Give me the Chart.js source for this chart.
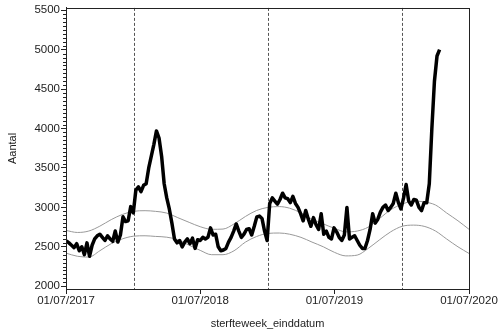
<!DOCTYPE html>
<html>
<head>
<meta charset="utf-8">
<script src="https://cdn.jsdelivr.net/npm/chart.js@4.4.0/dist/chart.umd.min.js"></script>
<style>
  html, body { margin: 0; padding: 0; background: #fff; }
</style>
</head>
<body>
<canvas id="chart" width="500" height="333"></canvas>
<script>
// weekly deaths, week ending dates start 2017-07-02
const firstWeekEnd = "2017-07-02";
const deaths = [
  2575, 2550, 2520, 2490, 2540, 2450, 2500, 2400, 2550, 2380,
  2520, 2600, 2640, 2660, 2620, 2580, 2640, 2600, 2570, 2700,
  2560, 2650, 2880, 2820, 2830, 3010, 2930, 3220, 3260, 3200,
  3280, 3300, 3500, 3650, 3800, 3970, 3880, 3650, 3300, 3120,
  2980, 2800, 2600, 2550, 2580, 2500, 2560, 2600, 2540, 2610,
  2480, 2590, 2580, 2620, 2600, 2620, 2740, 2650, 2660, 2500,
  2450, 2460, 2480, 2560, 2620, 2700, 2790, 2700, 2620, 2660,
  2720, 2730, 2650, 2760, 2880, 2890, 2860, 2700, 2580, 3050,
  3120, 3080, 3040, 3100, 3180, 3120, 3110, 3060, 3140, 3050,
  3000, 2920, 2830, 2960, 2850, 2760, 2870, 2780, 2720, 2920,
  2660, 2700, 2620, 2600, 2740, 2690, 2620, 2580, 2650, 3000,
  2600, 2620, 2640, 2580, 2520, 2480, 2480, 2580, 2720, 2920,
  2800, 2850, 2940, 3000, 3030, 2960, 3000, 3050, 3180, 3060,
  2980, 3120, 3290, 3080, 3030, 3100, 3090, 3000, 2960, 3060,
  3060, 3300, 4000, 4600, 4920, 5000
];

// expected band, monthly from 2017-07-01 to 2020-07-01
const bandStart = "2017-07-01";
const upperBand = [
  2708, 2682, 2700, 2762, 2845, 2910, 2950, 2958, 2950, 2928,
  2870, 2810, 2755, 2722, 2725, 2790, 2885, 2960, 3000, 3010,
  2990, 2930, 2850, 2790, 2735, 2690, 2700, 2750, 2860, 2970,
  3040, 3080, 3070, 3030, 2930, 2830, 2722
];
const lowerBand = [
  2420, 2380, 2370, 2450, 2540, 2600, 2635, 2640, 2632, 2622,
  2590, 2520, 2455, 2400, 2400, 2450, 2560, 2630, 2670, 2675,
  2660, 2620, 2560, 2500, 2430, 2385, 2395, 2480, 2590, 2690,
  2760, 2775, 2760, 2700, 2600, 2500, 2416
];

const xTickDates = ["2017-07-01", "2018-07-01", "2019-07-01", "2020-07-01"];
const refLineDates = ["2018-01-01", "2019-01-01", "2020-01-01"];
const yTicks = [2000, 2500, 3000, 3500, 4000, 4500, 5000, 5500];

const DAY = 86400000;
const t0 = Date.parse(firstWeekEnd);
const deathPoints = deaths.map((v, i) => ({ x: t0 + i * 7 * DAY, y: v }));

const b0 = new Date(bandStart);
function bandPoints(arr) {
  return arr.map((v, m) => ({
    x: Date.UTC(b0.getUTCFullYear(), b0.getUTCMonth() + m, 1),
    y: v
  }));
}

function fmtDate(ms) {
  const d = new Date(ms);
  const dd = String(d.getUTCDate()).padStart(2, "0");
  const mm = String(d.getUTCMonth() + 1).padStart(2, "0");
  return dd + "/" + mm + "/" + d.getUTCFullYear();
}

const FONT = "'Liberation Sans', Arial, sans-serif";

const extras = {
  id: "extras",
  beforeDatasetsDraw(chart) {
    const { ctx, chartArea: a, scales } = chart;
    ctx.save();
    ctx.strokeStyle = "#555";
    ctx.lineWidth = 1;
    ctx.setLineDash([3, 2]);
    refLineDates.forEach(d => {
      const x = Math.round(scales.x.getPixelForValue(Date.parse(d))) + 0.5;
      ctx.beginPath();
      ctx.moveTo(x, a.top);
      ctx.lineTo(x, a.bottom);
      ctx.stroke();
    });
    ctx.restore();
  },
  afterDraw(chart) {
    const { ctx, chartArea: a, scales } = chart;
    ctx.save();
    ctx.strokeStyle = "#222";
    ctx.lineWidth = 1;
    ctx.strokeRect(Math.round(a.left) + 0.5, Math.round(a.top) + 0.5,
      Math.round(a.right - a.left), Math.round(a.bottom - a.top));
    // minor ticks on y
    ctx.beginPath();
    for (let v = 2000; v <= 5500; v += 50) {
      if (v % 500 === 0) continue;
      const y = Math.round(scales.y.getPixelForValue(v)) + 0.5;
      ctx.moveTo(a.left, y);
      ctx.lineTo(a.left - 3, y);
    }
    ctx.stroke();
    ctx.restore();
  }
};

new Chart(document.getElementById("chart"), {
  type: "line",
  data: {
    datasets: [
      {
        data: deathPoints,
        borderColor: "#000",
        borderWidth: 3.5,
        borderJoinStyle: "round",
        pointRadius: 0,
        tension: 0
      },
      {
        data: bandPoints(upperBand),
        borderColor: "#999",
        borderWidth: 1,
        pointRadius: 0,
        cubicInterpolationMode: "monotone"
      },
      {
        data: bandPoints(lowerBand),
        borderColor: "#999",
        borderWidth: 1,
        pointRadius: 0,
        cubicInterpolationMode: "monotone"
      }
    ]
  },
  options: {
    responsive: false,
    animation: false,
    layout: { padding: { left: 0, right: 31, top: 3, bottom: 0 } },
    plugins: { legend: { display: false }, tooltip: { enabled: false } },
    scales: {
      x: {
        type: "linear",
        min: Date.parse(xTickDates[0]),
        max: Date.parse(xTickDates[xTickDates.length - 1]),
        afterBuildTicks: s => { s.ticks = xTickDates.map(d => ({ value: Date.parse(d) })); },
        afterFit: s => { s.height = 44; },
        grid: { drawOnChartArea: false, drawTicks: true, tickLength: 5, color: "#222" },
        border: { display: true, color: "#222" },
        ticks: {
          callback: v => fmtDate(v),
          maxRotation: 0,
          autoSkip: false,
          padding: 0,
          color: "#222",
          font: { family: FONT, size: 11.5 }
        },
        title: {
          display: true,
          text: "sterfteweek_einddatum",
          color: "#222",
          font: { family: FONT, size: 11 },
          padding: { top: 4, bottom: 2 }
        }
      },
      y: {
        min: 1965,
        max: 5530,
        afterBuildTicks: s => { s.ticks = yTicks.map(v => ({ value: v })); },
        afterFit: s => { s.width = 66; },
        grid: { drawOnChartArea: false, drawTicks: true, tickLength: 5, color: "#222" },
        border: { display: true, color: "#222" },
        ticks: {
          callback: v => String(v),
          padding: 1,
          color: "#222",
          font: { family: FONT, size: 11.5 }
        },
        title: {
          display: true,
          text: "Aantal",
          color: "#222",
          font: { family: FONT, size: 11 },
          padding: { top: 6, bottom: 4 }
        }
      }
    }
  },
  plugins: [extras]
});
</script>
</body>
</html>
